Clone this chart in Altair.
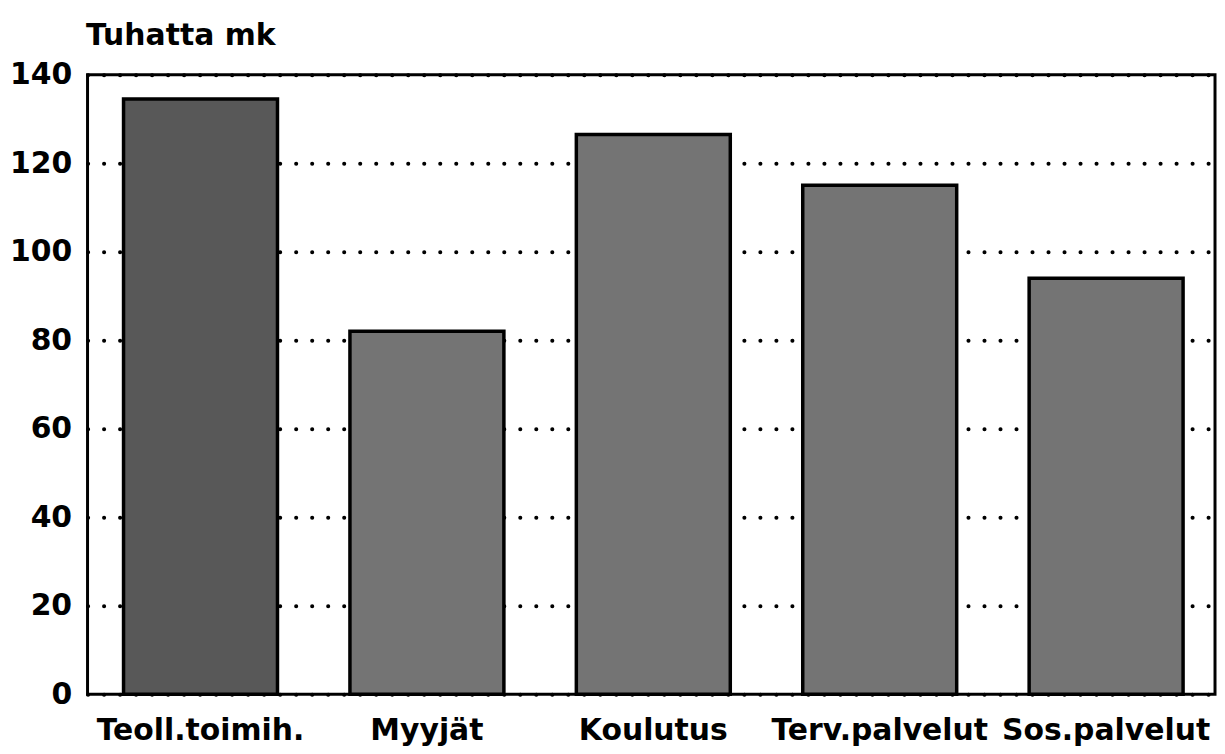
import altair as alt
import pandas as pd

categories = ["Teoll.toimih.", "Myyjät", "Koulutus", "Terv.palvelut", "Sos.palvelut"]
values = [134.5, 82.0, 126.5, 115.0, 94.0]
y_ticks = [0, 20, 40, 60, 80, 100, 120, 140]

df = pd.DataFrame({"category": categories, "value": values})

FONT = "DejaVu Sans"

chart = (
    alt.Chart(df)
    .mark_bar(stroke="black", strokeWidth=3.5)
    .encode(
        x=alt.X(
            "category:N",
            sort=categories,
            scale=alt.Scale(paddingInner=0.32, paddingOuter=0.15, align=0.53),
            axis=alt.Axis(
                title=None,
                labelAngle=0,
                labelFont=FONT,
                labelFontSize=30,
                labelFontWeight="bold",
                labelColor="black",
                labelPadding=22,
                ticks=False,
                domain=False,
                labelOverlap=False,
                labelLimit=0,
            ),
        ),
        y=alt.Y(
            "value:Q",
            scale=alt.Scale(domain=[0, 140], nice=False),
            axis=alt.Axis(
                values=y_ticks,
                title="Tuhatta mk",
                titleAngle=0,
                titleAlign="left",
                titleBaseline="alphabetic",
                titleX=-2,
                titleY=-30,
                titleFont=FONT,
                titleFontSize=30,
                titleFontWeight="bold",
                titleColor="black",
                labelFont=FONT,
                labelFontSize=30,
                labelFontWeight="bold",
                labelColor="black",
                labelPadding=16,
                ticks=False,
                domain=False,
                grid=True,
                gridColor="black",
                gridWidth=4,
                gridDash=[0.1, 16],
                gridCap="round",
            ),
        ),
        color=alt.condition(
            alt.datum.category == "Teoll.toimih.",
            alt.value("#585858"),
            alt.value("#747474"),
        ),
    )
    .properties(
        width=1134,
        height=623,
        autosize=alt.AutoSizeParams(type="none"),
        padding={"left": 80, "top": 65, "right": 2, "bottom": 50},
    )
    .configure(background="white")
    .configure_view(stroke="black", strokeWidth=3)
)

chart.save("out.html", embed_options={"renderer": "svg", "actions": False})
